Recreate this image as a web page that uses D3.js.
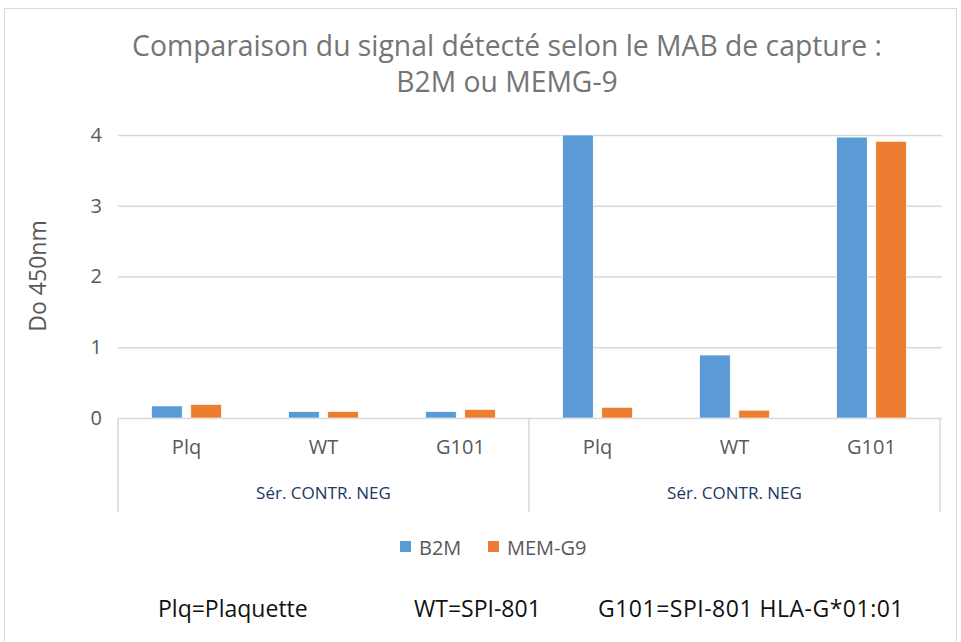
<!DOCTYPE html>
<html>
<head>
<meta charset="utf-8">
<script src="https://cdn.jsdelivr.net/npm/d3@7"></script>
<style>
html,body{margin:0;padding:0;background:#fff;}
svg{display:block;}
text{font-family:"Open Sans",sans-serif;}
</style>
</head>
<body>
<svg id="chart" width="961" height="642"></svg>
<script>
const titleLines = ["Comparaison du signal détecté selon le MAB de capture :", "B2M ou MEMG-9"];
const yTitle = "Do 450nm";
const groups = ["Sér. CONTR. NEG", "Sér. CONTR. NEG"];
const categories = ["Plq", "WT", "G101", "Plq", "WT", "G101"];
const categoryGroup = [0, 0, 0, 1, 1, 1];
const seriesNames = ["B2M", "MEM-G9"];
const b2m = [0.17, 0.09, 0.09, 4.0, 0.89, 3.97];
const memg9 = [0.19, 0.09, 0.12, 0.15, 0.11, 3.91];
const yTicks = [0, 1, 2, 3, 4];
const footnotes = ["Plq=Plaquette", "WT=SPI-801", "G101=SPI-801 HLA-G*01:01"];
const colors = ["#5b9bd5", "#ed7d31"];

const svg = d3.select("#chart");
const plot = {left: 118, right: 940, top: 135, bottom: 418};

// outer frame
svg.append("rect").attr("x", 4.5).attr("y", 8.5).attr("width", 952).attr("height", 660)
  .attr("fill", "#fff").attr("stroke", "#d9d9d9").attr("stroke-width", 1);

// title
const title = svg.append("text").attr("text-anchor", "middle").attr("fill", "#757575")
  .style("font-size", "28.3px");
title.selectAll("tspan").data(titleLines).join("tspan")
  .attr("x", 507).attr("y", (d, i) => 56 + i * 36).text(d => d);

const ids = categories.map((c, i) => i);
const x0 = d3.scaleBand().domain(ids).range([plot.left, plot.right]).padding(0);
const bw = x0.bandwidth();
const x1 = d3.scaleBand().domain(seriesNames).range([bw * 0.246, bw * 0.754]).paddingInner(0.22);
const y = d3.scaleLinear().domain([0, 4]).range([plot.bottom, plot.top]);

// gridlines
const grid = svg.append("g").attr("transform", `translate(${plot.left},0)`)
  .call(d3.axisLeft(y).tickValues(yTicks).tickSize(-(plot.right - plot.left + 2)).tickFormat(""));
grid.select(".domain").remove();
grid.selectAll("line").attr("stroke", "#d9d9d9").attr("stroke-width", 1.5);

// y axis labels
const yAx = svg.append("g").attr("transform", `translate(${plot.left},0)`)
  .call(d3.axisLeft(y).tickValues(yTicks).tickSize(0).tickPadding(16).tickFormat(d3.format("d")));
yAx.select(".domain").remove();
yAx.selectAll("text").attr("fill", "#595959").style("font-size", "20px");

// y title
svg.append("text").attr("transform", `translate(40,276) rotate(-90)`)
  .attr("text-anchor", "middle").attr("dominant-baseline", "middle")
  .attr("fill", "#595959").style("font-size", "23px").text(yTitle);

// bars
const rows = ids.map(i => ({i, vals: [b2m[i], memg9[i]]}));
const bg = svg.append("g").selectAll("g").data(rows).join("g")
  .attr("transform", d => `translate(${x0(d.i)},0)`);
bg.selectAll("rect").data(d => d.vals.map((v, k) => ({k, v}))).join("rect")
  .attr("x", d => x1(seriesNames[d.k]))
  .attr("width", x1.bandwidth())
  .attr("y", d => y(d.v))
  .attr("height", d => y(0) - y(d.v))
  .attr("fill", d => colors[d.k])
  .attr("stroke", "#fff").attr("stroke-width", 0.6);

// x axis category labels
const xAx = svg.append("g").attr("transform", `translate(0,${plot.bottom})`)
  .call(d3.axisBottom(x0).tickSize(0).tickPadding(22).tickFormat(i => categories[i]));
xAx.select(".domain").remove();
xAx.selectAll("text").attr("fill", "#595959").style("font-size", "20px");

// group separators
const sepX = [plot.left, x0(3), plot.right];
svg.append("g").selectAll("line").data(sepX).join("line")
  .attr("x1", d => d).attr("x2", d => d).attr("y1", plot.bottom).attr("y2", 512)
  .attr("stroke", "#d9d9d9").attr("stroke-width", 1.5);

// group labels
const groupCenters = groups.map((g, gi) => {
  const idx = ids.filter(i => categoryGroup[i] === gi);
  return (x0(idx[0]) + x0(idx[idx.length - 1]) + bw) / 2;
});
svg.append("g").selectAll("text").data(groups).join("text")
  .attr("x", (d, i) => groupCenters[i]).attr("y", 499)
  .attr("text-anchor", "middle").attr("fill", "#203864").style("font-size", "17px")
  .text(d => d);

// legend
const legX = [400, 488];
const leg = svg.append("g").selectAll("g").data(seriesNames).join("g")
  .attr("transform", (d, i) => `translate(${legX[i]},541)`);
leg.append("rect").attr("width", 11).attr("height", 11).attr("fill", (d, i) => colors[i]);
leg.append("text").attr("x", 19).attr("y", 13.5).attr("fill", "#595959")
  .style("font-size", "20px").text(d => d);

// footnotes
const fnX = [158, 414, 598];
svg.append("g").selectAll("text").data(footnotes).join("text")
  .attr("x", (d, i) => fnX[i]).attr("y", 617).attr("fill", "#111")
  .style("font-size", "23px").attr("letter-spacing", (d, i) => i === 2 ? "0.5px" : "0px")
  .text(d => d);
</script>
</body>
</html>
